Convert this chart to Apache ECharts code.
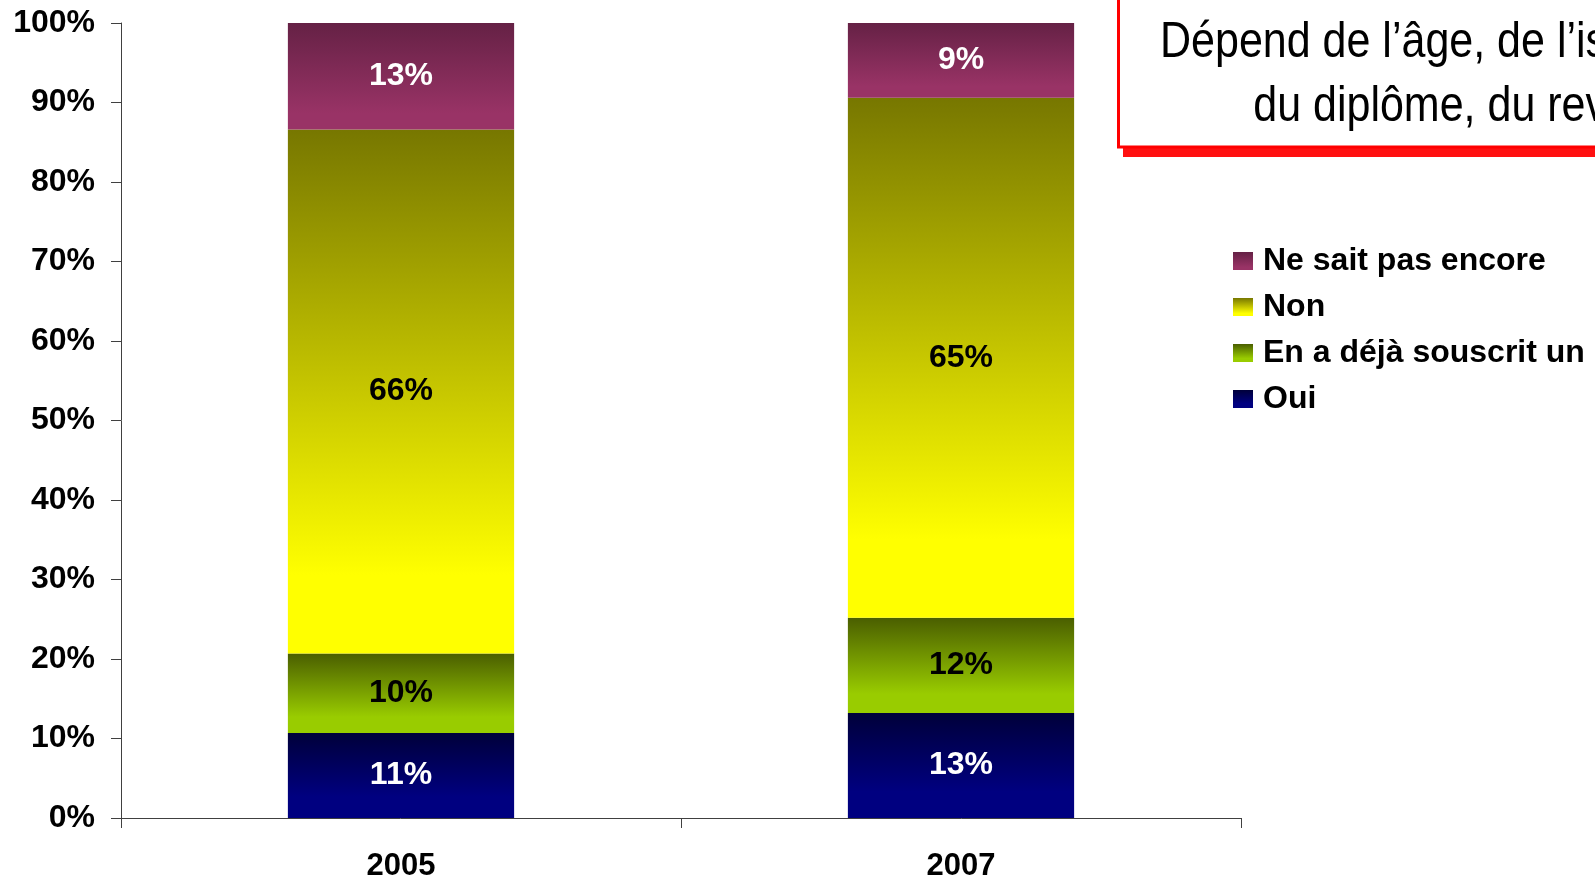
<!DOCTYPE html>
<html>
<head>
<meta charset="utf-8">
<script src="https://cdn.jsdelivr.net/npm/echarts@6/dist/echarts.min.js"></script>
<style>
html,body{margin:0;padding:0;background:#fff;}
#c{width:1595px;height:882px;}
</style>
</head>
<body>
<div id="c"></div>
<script>
const categories = ['2005', '2007'];
const oui = [10.7, 13.2];
const deja = [10.0, 12.0];
const non = [65.9, 65.4];
const nsp = [13.4, 9.4];
const yTicks = { min: 0, max: 100, interval: 10 };
const legendOrder = ['Ne sait pas encore', 'Non', 'En a déjà souscrit un', 'Oui'];

const FONT = '"Liberation Sans", Arial, sans-serif';
function grad(top, bottom, stop) {
  return new echarts.graphic.LinearGradient(0, 0, 0, 1, [
    { offset: 0, color: top },
    { offset: stop, color: bottom },
    { offset: 1, color: bottom }
  ]);
}
function mkSeries(name, data, color, labelColor) {
  return {
    name: name,
    type: 'bar',
    stack: 'total',
    data: data,
    barWidth: '40.4%',
    itemStyle: { color: color },
    label: {
      show: true,
      position: 'inside',
      color: labelColor,
      fontFamily: FONT,
      fontWeight: 'bold',
      fontSize: 32,
      formatter: p => Math.round(p.value) + '%'
    },
    emphasis: { disabled: true }
  };
}

const chart = echarts.init(document.getElementById('c'), null, { renderer: 'canvas' });
chart.setOption({
  animation: false,
  backgroundColor: '#ffffff',
  grid: { left: 121, right: 354, top: 23, bottom: 62 },
  xAxis: {
    type: 'category',
    data: categories,
    axisLine: { lineStyle: { color: '#404040', width: 1 } },
    axisTick: { show: true, length: 10, lineStyle: { color: '#404040' } },
    axisLabel: { color: '#000', fontFamily: FONT, fontWeight: 'bold', fontSize: 31, margin: 33 }
  },
  yAxis: {
    type: 'value',
    min: yTicks.min, max: yTicks.max, interval: yTicks.interval,
    axisLine: { show: true, lineStyle: { color: '#404040', width: 1 } },
    axisTick: { show: true, length: 10, lineStyle: { color: '#404040' } },
    splitLine: { show: false },
    axisLabel: { color: '#000', fontFamily: FONT, fontWeight: 'bold', fontSize: 32, margin: 26, formatter: '{value}%' }
  },
  legend: {
    data: legendOrder,
    orient: 'vertical',
    left: 1228,
    top: 240,
    itemWidth: 20,
    itemHeight: 18,
    itemGap: 14,
    icon: 'rect',
    textStyle: { color: '#000', fontFamily: FONT, fontWeight: 'bold', fontSize: 32, lineHeight: 32, padding: [0, 0, 0, 5] }
  },
  series: [
    mkSeries('Oui', oui, grad('#00003a', '#000080', 0.75), '#ffffff'),
    mkSeries('En a déjà souscrit un', deja, grad('#4a5e00', '#99cc00', 0.8), '#000000'),
    mkSeries('Non', non, grad('#777700', '#ffff00', 0.85), '#000000'),
    mkSeries('Ne sait pas encore', nsp, grad('#652145', '#993366', 0.85), '#ffffff')
  ],
  graphic: [
    { type: 'rect', z: 10, shape: { x: 1123, y: -10, width: 520, height: 167 }, style: { fill: '#ff1010' } },
    { type: 'rect', z: 11, shape: { x: 1118.5, y: -10, width: 520, height: 157 }, style: { fill: '#ffffff', stroke: '#ff0000', lineWidth: 3 } },
    { type: 'text', z: 12, x: 1466, y: 43, scaleX: 0.86,
      style: { text: 'Dépend de l’âge, de l’isolement,', x: 0, y: 0, textAlign: 'center', textVerticalAlign: 'middle', font: '50px "Liberation Sans", Arial, sans-serif', fill: '#000' } },
    { type: 'text', z: 12, x: 1466, y: 107, scaleX: 0.86,
      style: { text: 'du diplôme, du revenu', x: 0, y: 0, textAlign: 'center', textVerticalAlign: 'middle', font: '50px "Liberation Sans", Arial, sans-serif', fill: '#000' } }
  ]
});
</script>
</body>
</html>
